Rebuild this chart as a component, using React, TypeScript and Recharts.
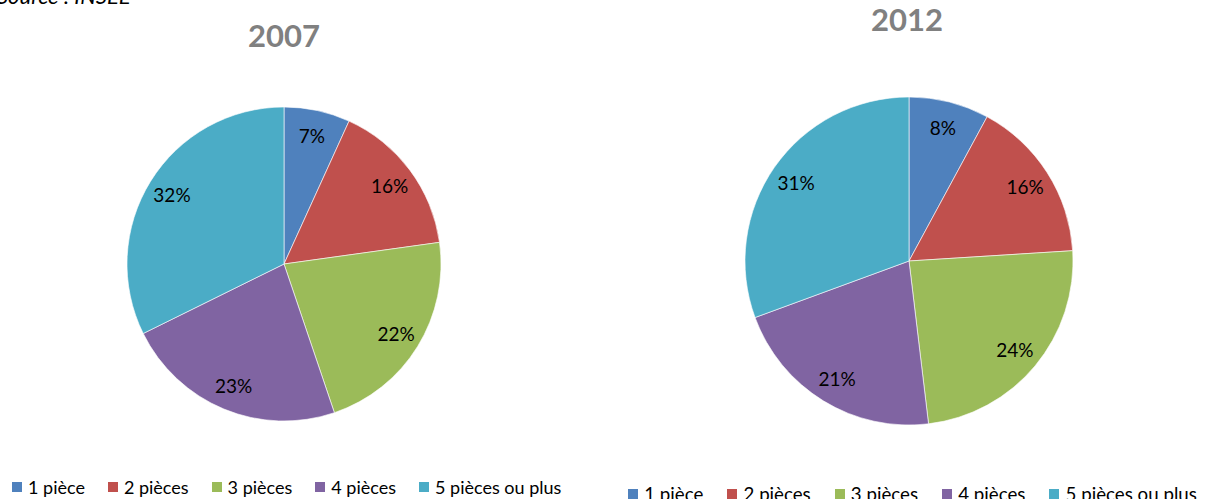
import React from "react";
import { PieChart, Pie, Cell } from "recharts";

const categories = ["1 pièce", "2 pièces", "3 pièces", "4 pièces", "5 pièces ou plus"];
const values2007 = [6.8, 16.0, 22.0, 22.9, 32.3];
const values2012 = [7.9, 16.1, 24.1, 21.3, 30.6];
const titles = ["2007", "2012"];
const sourceText = "Source : INSEE";
const colors = ["#4F81BD", "#C0504D", "#9BBB59", "#8064A2", "#4BACC6"];

const data2007 = categories.map((name, i) => ({ name, value: values2007[i] }));
const data2012 = categories.map((name, i) => ({ name, value: values2012[i] }));

const FONT = "Lato, 'Open Sans', sans-serif";
const RAD = Math.PI / 180;

const renderLabel = (props: any) => {
  const { cx, cy, midAngle, outerRadius, percent } = props;
  const r = outerRadius * 0.84;
  const x = cx + r * Math.cos(-midAngle * RAD);
  const y = cy + r * Math.sin(-midAngle * RAD);
  return (
    <text
      x={x}
      y={y}
      textAnchor="middle"
      dominantBaseline="central"
      fill="#000"
      fontFamily={FONT}
      fontSize={19}
    >
      {`${Math.round(percent * 100)}%`}
    </text>
  );
};

const Legend = ({ left, top, scale }: { left: number; top: number; scale: number }) => (
  <div
    style={{
      position: "absolute",
      left,
      top,
      display: "flex",
      alignItems: "center",
      gap: 23 * scale,
      fontFamily: FONT,
      fontSize: 18 * scale,
      color: "#000",
      whiteSpace: "nowrap",
      lineHeight: 1,
    }}
  >
    {categories.map((c, i) => (
      <div key={c} style={{ display: "flex", alignItems: "center" }}>
        <span
          style={{
            display: "inline-block",
            width: 10,
            height: 10,
            background: colors[i],
            marginRight: 6 * scale,
          }}
        />
        <span>{c}</span>
      </div>
    ))}
  </div>
);

const Title = ({ text, cx, top }: { text: string; cx: number; top: number }) => (
  <div
    style={{
      position: "absolute",
      left: cx - 100,
      width: 200,
      top,
      textAlign: "center",
      fontFamily: FONT,
      fontWeight: 700,
      fontSize: 31,
      color: "#808080",
      lineHeight: 1,
    }}
  >
    {text}
  </div>
);

export default function App() {
  return (
    <div
      style={{
        position: "absolute",
        left: 0,
        top: 0,
        width: 1205,
        height: 499,
        background: "#fff",
        overflow: "hidden",
      }}
    >
      <PieChart
        width={1205}
        height={499}
        margin={{ top: 0, right: 0, bottom: 0, left: 0 }}
        style={{ position: "absolute", left: 0, top: 0 }}
      >
        <Pie
          data={data2007}
          dataKey="value"
          nameKey="name"
          cx={284}
          cy={264}
          outerRadius={157}
          startAngle={90}
          endAngle={-270}
          stroke="#ffffff"
          strokeWidth={0.6}
          label={renderLabel}
          labelLine={false}
          isAnimationActive={false}
        >
          {data2007.map((d, i) => (
            <Cell key={d.name} fill={colors[i]} />
          ))}
        </Pie>
        <Pie
          data={data2012}
          dataKey="value"
          nameKey="name"
          cx={909}
          cy={261}
          outerRadius={164}
          startAngle={90}
          endAngle={-270}
          stroke="#ffffff"
          strokeWidth={0.6}
          label={renderLabel}
          labelLine={false}
          isAnimationActive={false}
        >
          {data2012.map((d, i) => (
            <Cell key={d.name} fill={colors[i]} />
          ))}
        </Pie>
      </PieChart>
      <div
        style={{
          position: "absolute",
          left: -3,
          top: -15,
          fontFamily: FONT,
          fontStyle: "italic",
          fontSize: 22,
          color: "#000",
          lineHeight: 1,
          whiteSpace: "nowrap",
        }}
      >
        {sourceText}
      </div>
      <Title text={titles[0]} cx={284} top={20} />
      <Title text={titles[1]} cx={907} top={4} />
      <Legend left={12} top={478} scale={1} />
      <Legend left={628} top={485} scale={1.04} />
    </div>
  );
}
